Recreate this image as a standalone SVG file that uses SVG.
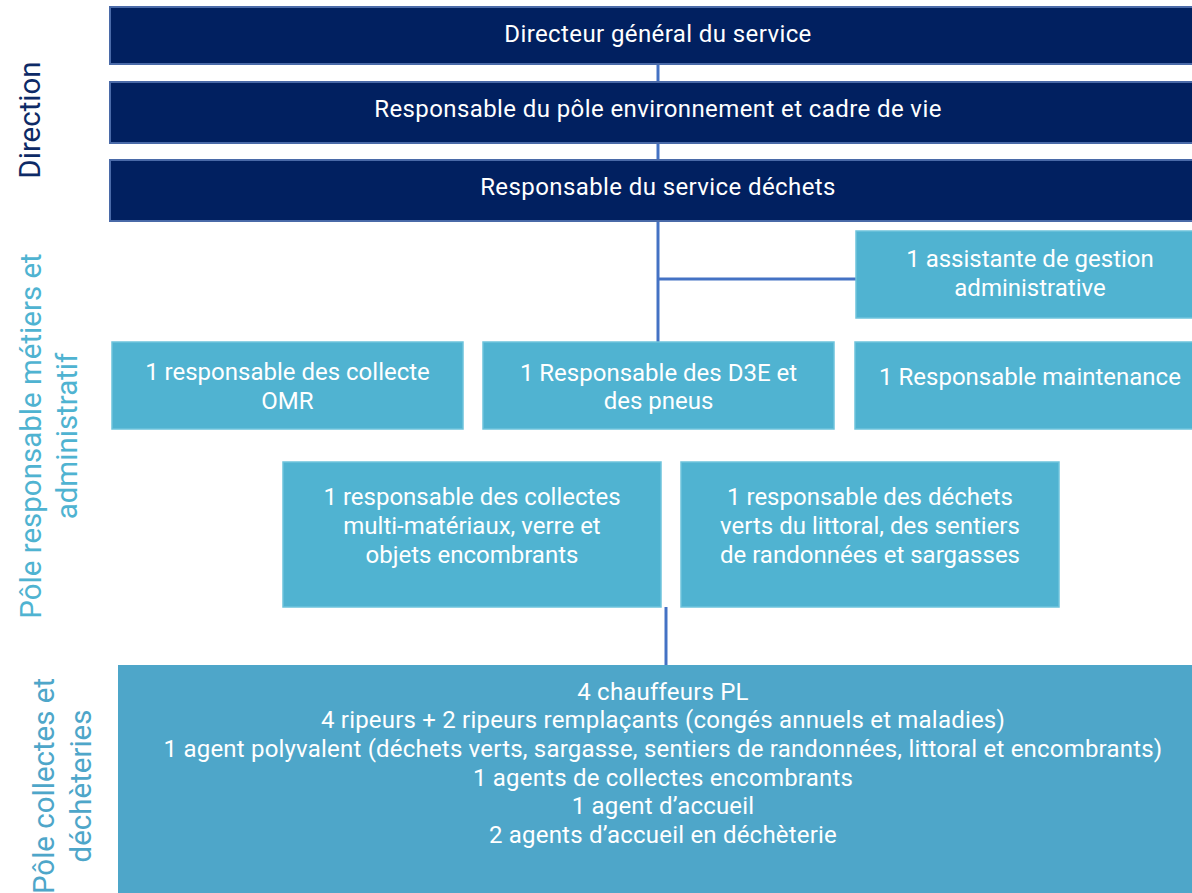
<svg xmlns="http://www.w3.org/2000/svg" width="1192" height="893" viewBox="0 0 1192 893">
<style>
.dark{fill:#012060;stroke:#4a6aa8;stroke-width:2}
.mid{fill:#50b3d1;stroke:#6ec3dc;stroke-width:1.5}
.low{fill:#4ea6c9}
.t{font-family:Roboto,"Noto Sans",sans-serif;font-size:24px;fill:#ffffff;text-anchor:middle}
.td{letter-spacing:0.4px}
.tl{letter-spacing:0.2px}
.side{font-family:Roboto,"Noto Sans",sans-serif;font-size:29.5px;text-anchor:middle}
.conn{stroke:#4472c4;stroke-width:3;fill:none}
</style>
<rect width="1192" height="893" fill="#ffffff"/>
<g id="labels">
<text class="side" fill="#0d2a66" transform="translate(40 120) rotate(-90)">Direction</text>
<text class="side" fill="#4fb3d1" transform="rotate(-90 41 436)" x="41" y="436">Pôle responsable métiers et</text>
<text class="side" fill="#4fb3d1" transform="rotate(-90 77 436)" x="77" y="436">administratif</text>
<text class="side" fill="#4ea6c9" transform="rotate(-90 54 786)" x="54" y="786">Pôle collectes et</text>
<text class="side" fill="#4ea6c9" transform="rotate(-90 91 786)" x="91" y="786">déchèteries</text>
</g>
<g id="connectors">
<line class="conn" x1="658" y1="64" x2="658" y2="82"/>
<line class="conn" x1="658" y1="143" x2="658" y2="160"/>
<line class="conn" x1="658" y1="221" x2="658" y2="342"/>
<line class="conn" x1="658" y1="279" x2="856" y2="279"/>
<line class="conn" x1="666" y1="607" x2="666" y2="665"/>
</g>
<g id="directeur">
<rect class="dark" x="110" y="7" width="1100" height="57"/>
<text class="t td" x="658" y="42">Directeur général du service</text>
</g>
<g id="pole-env">
<rect class="dark" x="110" y="82" width="1100" height="61"/>
<text class="t td" x="658" y="117">Responsable du pôle environnement et cadre de vie</text>
</g>
<g id="service-dechets">
<rect class="dark" x="110" y="160" width="1100" height="61"/>
<text class="t td" x="658" y="195">Responsable du service déchets</text>
</g>
<g id="assistante">
<rect class="mid" x="856" y="231" width="350" height="87"/>
<text class="t" x="1030" y="267">1 assistante de gestion</text>
<text class="t" x="1030" y="296">administrative</text>
</g>
<g id="omr">
<rect class="mid" x="112" y="342" width="351" height="87"/>
<text class="t" x="287.5" y="380">1 responsable des collecte</text>
<text class="t" x="287.5" y="409">OMR</text>
</g>
<g id="d3e">
<rect class="mid" x="483" y="342" width="351" height="87"/>
<text class="t" x="658.5" y="381">1 Responsable des D3E et</text>
<text class="t" x="658.5" y="409">des pneus</text>
</g>
<g id="maintenance">
<rect class="mid" x="855" y="342" width="350" height="87"/>
<text class="t" x="1030" y="385">1 Responsable maintenance</text>
</g>
<g id="multi-materiaux">
<rect class="mid" x="283" y="462" width="378" height="145"/>
<text class="t" x="472" y="505">1 responsable des collectes</text>
<text class="t" x="472" y="534">multi-matériaux, verre et</text>
<text class="t" x="472" y="563">objets encombrants</text>
</g>
<g id="dechets-verts">
<rect class="mid" x="681" y="462" width="378" height="145"/>
<text class="t" x="870" y="505">1 responsable des déchets</text>
<text class="t" x="870" y="534">verts du littoral, des sentiers</text>
<text class="t" x="870" y="563">de randonnées et sargasses</text>
</g>
<g id="agents">
<rect class="low" x="118" y="665" width="1090" height="230"/>
<text class="t tl" x="663" y="700">4 chauffeurs PL</text>
<text class="t tl" x="663" y="728">4 ripeurs + 2 ripeurs remplaçants (congés annuels et maladies)</text>
<text class="t tl" x="663" y="757">1 agent polyvalent (déchets verts, sargasse, sentiers de randonnées, littoral et encombrants)</text>
<text class="t tl" x="663" y="786">1 agents de collectes encombrants</text>
<text class="t tl" x="663" y="814">1 agent d’accueil</text>
<text class="t tl" x="663" y="843">2 agents d’accueil en déchèterie</text>
</g>
</svg>
